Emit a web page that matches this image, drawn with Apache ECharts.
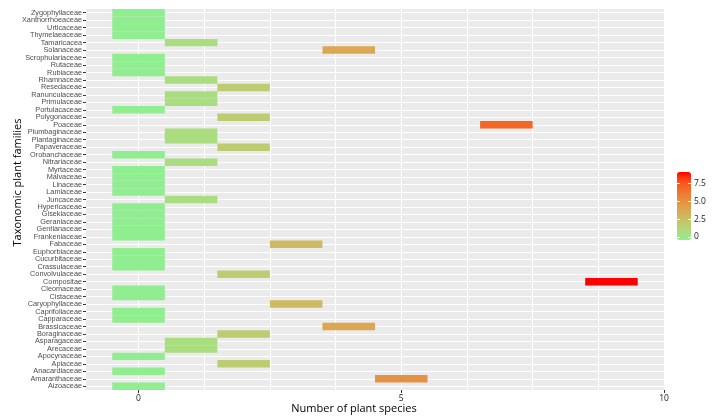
<!DOCTYPE html>
<html>
<head>
<meta charset="utf-8">
<script src="https://cdn.jsdelivr.net/npm/echarts@6/dist/echarts.min.js"></script>
<style>
html, body { margin: 0; padding: 0; background: #fff; }
#chart { width: 713px; height: 418px; }
</style>
</head>
<body>
<div id="chart"></div>
<script>
// families listed bottom -> top, as they sit on the y axis
var families = ['Aizoaceae', 'Amaranthaceae', 'Anacardiaceae', 'Apiaceae', 'Apocynaceae', 'Arecaceae',
    'Asparagaceae', 'Boraginaceae', 'Brassicaceae', 'Capparaceae', 'Caprifoliaceae', 'Caryophyllaceae',
    'Cistaceae', 'Cleomaceae', 'Compositae', 'Convolvulaceae', 'Crassulaceae', 'Cucurbitaceae',
    'Euphorbiaceae', 'Fabaceae', 'Frankeniaceae', 'Gentianaceae', 'Geraniaceae', 'Gisekiaceae',
    'Hypericaceae', 'Juncaceae', 'Lamiaceae', 'Linaceae', 'Malvaceae', 'Myrtaceae', 'Nitrariaceae',
    'Orobanchaceae', 'Papaveraceae', 'Plantaginaceae', 'Plumbaginaceae', 'Poaceae', 'Polygonaceae',
    'Portulacaceae', 'Primulaceae', 'Ranunculaceae', 'Resedaceae', 'Rhamnaceae', 'Rubiaceae', 'Rutaceae',
    'Scrophulariaceae', 'Solanaceae', 'Tamaricacea', 'Thymelaeaceae', 'Urticaceae', 'Xanthorrhoeaceae',
    'Zygophyllaceae'];
var species = [0, 5, 0, 2, 0, 1, 1, 2, 4, 0, 0, 3, 0, 0, 9, 2, 0, 0, 0, 3, 0, 0, 0, 0, 0, 1, 0, 0, 0, 0, 1,
    0, 2, 1, 1, 7, 2, 0, 1, 1, 2, 1, 0, 0, 0, 4, 1, 0, 0, 0, 0];

var xLabelBreaks = [0, 5, 10];
var xGridBreaks = [0, 1.25, 2.5, 3.75, 5, 6.25, 7.5, 8.75, 10];
var legendBreaks = [0, 2.5, 5, 7.5];

// lightgreen -> red, blended in Lab like ggplot's gradient
function toLin(c) { c /= 255; return c <= 0.04045 ? c / 12.92 : Math.pow((c + 0.055) / 1.055, 2.4); }
function toByte(v) {
    v = v <= 0.0031308 ? 12.92 * v : 1.055 * Math.pow(v, 1 / 2.4) - 0.055;
    return Math.max(0, Math.min(255, Math.round(v * 255)));
}
function hexToLab(hex) {
    var r = toLin(parseInt(hex.substr(1, 2), 16)), g = toLin(parseInt(hex.substr(3, 2), 16)), b = toLin(parseInt(hex.substr(5, 2), 16));
    var X = (0.4124 * r + 0.3576 * g + 0.1805 * b) / 0.95047;
    var Y = 0.2126 * r + 0.7152 * g + 0.0722 * b;
    var Z = (0.0193 * r + 0.1192 * g + 0.9505 * b) / 1.08883;
    var f = function (t) { return t > 0.008856 ? Math.cbrt(t) : 7.787 * t + 16 / 116; };
    return [116 * f(Y) - 16, 500 * (f(X) - f(Y)), 200 * (f(Y) - f(Z))];
}
function labToHex(lab) {
    var fy = (lab[0] + 16) / 116, fx = fy + lab[1] / 500, fz = fy - lab[2] / 200;
    var inv = function (t) { return t * t * t > 0.008856 ? t * t * t : (t - 16 / 116) / 7.787; };
    var X = inv(fx) * 0.95047, Y = inv(fy), Z = inv(fz) * 1.08883;
    var rgb = [3.2406 * X - 1.5372 * Y - 0.4986 * Z, -0.9689 * X + 1.8758 * Y + 0.0415 * Z, 0.0557 * X - 0.2040 * Y + 1.0570 * Z];
    return '#' + rgb.map(function (v) { var s = toByte(v).toString(16); return s.length < 2 ? '0' + s : s; }).join('');
}
function labRamp(lo, hi, n) {
    var a = hexToLab(lo), b = hexToLab(hi), out = [];
    for (var i = 0; i < n; i++) {
        var t = i / (n - 1);
        out.push(labToHex([a[0] + (b[0] - a[0]) * t, a[1] + (b[1] - a[1]) * t, a[2] + (b[2] - a[2]) * t]));
    }
    return out;
}

var tiles = families.map(function (f, i) { return [species[i], i, f]; });

var chart = echarts.init(document.getElementById('chart'));
chart.setOption({
    animation: false,
    backgroundColor: '#fff',
    grid: [
        { left: 86, right: 49, top: 9, bottom: 28, show: true, backgroundColor: '#EBEBEB', borderWidth: 0,
          containLabel: false, outerBoundsMode: 'none' },
        { left: 677, top: 173, width: 14, height: 64, show: false, containLabel: false, outerBoundsMode: 'none' }
    ],
    xAxis: [{
        gridIndex: 0, type: 'value', min: -1, max: 10, position: 'bottom',
        axisLine: { show: false, onZero: false },
        axisTick: { show: false, customValues: xGridBreaks },
        axisLabel: { show: false },
        splitLine: { show: true, lineStyle: { color: '#fff', width: 1 } }
    }, {
        gridIndex: 0, type: 'value', min: -1, max: 10, position: 'bottom',
        axisLine: { show: false, onZero: false },
        axisTick: { show: true, customValues: xLabelBreaks, length: 3, lineStyle: { color: '#333' } },
        axisLabel: { customValues: xLabelBreaks, fontSize: 8.5, color: '#1a1a1a', fontFamily: 'Open Sans', margin: 4 },
        splitLine: { show: false },
        name: 'Number of plant species', nameLocation: 'middle', nameGap: 13, nameMoveOverlap: false,
        nameTextStyle: { fontSize: 11, color: '#000', fontFamily: 'Open Sans', padding: [0, 42, 0, 0] }
    }, {
        gridIndex: 1, type: 'value', show: false
    }],
    yAxis: [{
        gridIndex: 0, type: 'category', data: families,
        axisLine: { show: false, onZero: false },
        axisTick: { show: true, alignWithLabel: true, length: 3, lineStyle: { color: '#333' } },
        axisLabel: { interval: 0, fontSize: 7.3, color: '#4d4d4d', fontFamily: 'Liberation Sans', margin: 4 },
        splitLine: { show: true, alignWithLabel: true, lineStyle: { color: '#fff', width: 1 } },
        name: 'Taxonomic plant families', nameLocation: 'middle', nameGap: 63, nameMoveOverlap: false,
        nameTextStyle: { fontSize: 11, color: '#000', fontFamily: 'Open Sans', padding: [0, 0, 0, 34] }
    }, {
        gridIndex: 1, type: 'value', min: 0, max: 9, position: 'right', z: 10,
        axisLine: { show: false, onZero: false },
        axisTick: { show: true, inside: true, customValues: legendBreaks, length: 3, lineStyle: { color: '#fff' } },
        axisLabel: {
            customValues: legendBreaks, fontSize: 8.5, color: '#1a1a1a', fontFamily: 'Open Sans', margin: 3,
            formatter: function (v) { return v === 0 ? '0' : v.toFixed(1); }
        },
        splitLine: { show: false }
    }, {
        gridIndex: 1, type: 'value', min: 0, max: 9, position: 'left', z: 10,
        axisLine: { show: false, onZero: false },
        axisTick: { show: true, inside: true, customValues: legendBreaks, length: 3, lineStyle: { color: '#fff' } },
        axisLabel: { show: false },
        splitLine: { show: false }
    }],
    visualMap: {
        type: 'continuous', min: 0, max: 9, dimension: 0, seriesIndex: 0,
        calculable: false, hoverLink: false,
        itemWidth: 14, itemHeight: 68, right: 22, top: 172, padding: 0,
        inRange: { color: labRamp('#90EE90', '#FF0000', 10) }
    },
    series: [{
        type: 'custom',
        xAxisIndex: 0, yAxisIndex: 0,
        encode: { x: 0, y: 1 },
        data: tiles,
        renderItem: function (params, api) {
            var v = api.value(0), c = api.value(1);
            var p0 = api.coord([v - 0.5, c]);
            var p1 = api.coord([v + 0.5, c]);
            var h = api.size([0, 1])[1];
            return {
                type: 'rect',
                shape: { x: p0[0], y: p0[1] - h / 2, width: p1[0] - p0[0], height: h },
                style: { fill: api.visual('color') }
            };
        }
    }]
});
</script>
</body>
</html>
